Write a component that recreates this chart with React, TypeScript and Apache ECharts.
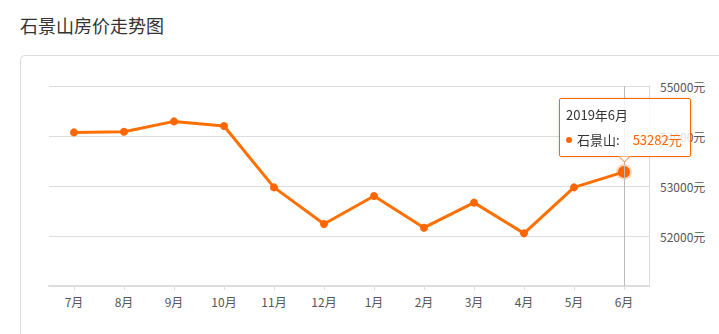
import React, { useEffect, useRef } from "react";
import * as echarts from "echarts";

const categories = ["7月", "8月", "9月", "10月", "11月", "12月", "1月", "2月", "3月", "4月", "5月", "6月"];
const periods = [
  "2018年7月", "2018年8月", "2018年9月", "2018年10月", "2018年11月", "2018年12月",
  "2019年1月", "2019年2月", "2019年3月", "2019年4月", "2019年5月", "2019年6月",
];
const prices = [54072, 54086, 54292, 54200, 52972, 52240, 52800, 52166, 52667, 52053, 52973, 53282];
const seriesName = "石景山";
const titleText = "石景山房价走势图";
const yMin = 51000;
const yMax = 55000;
const yInterval = 1000;
const unit = "元";
const highlightIndex = 11;

const ORANGE = "#ff6600";
const TIP_BG = "rgba(255,255,255,0.82)";
const FONT = '"Noto Sans CJK SC", "Microsoft YaHei", sans-serif';

export default function App() {
  const ref = useRef<HTMLDivElement>(null);
  useEffect(() => {
    if (!ref.current) return;
    const chart = echarts.init(ref.current, undefined, { renderer: "svg" });
    chart.setOption({
      animation: false,
      textStyle: { fontFamily: FONT },
      title: {
        text: titleText,
        left: 15,
        top: 11,
        textStyle: { fontSize: 18, fontWeight: "normal", color: "#333", fontFamily: FONT },
      },
      graphic: [
        {
          type: "rect",
          silent: true,
          z: -10,
          shape: { x: 20.5, y: 55.5, width: 760, height: 320, r: 4 },
          style: { fill: "#fff", stroke: "#dcdcdc", lineWidth: 1 },
        },
      ],
      grid: { left: 49, right: 70, top: 86, bottom: 48, containLabel: false },
      xAxis: {
        type: "category",
        data: categories,
        boundaryGap: true,
        axisLine: { show: true, lineStyle: { color: "#dcdcdc", width: 2 } },
        axisTick: { show: true, alignWithLabel: true, length: 4, lineStyle: { color: "#dcdcdc" } },
        axisLabel: { color: "#555", fontSize: 12, margin: 9, fontFamily: FONT },
        splitLine: { show: false },
      },
      yAxis: {
        type: "value",
        position: "right",
        min: yMin,
        max: yMax,
        interval: yInterval,
        axisLine: { show: true, lineStyle: { color: "#dcdcdc", width: 1 } },
        axisTick: { show: false },
        axisLabel: {
          color: "#555",
          fontSize: 12,
          margin: 11,
          showMinLabel: false,
          formatter: (v: number) => `${v}${unit}`,
          fontFamily: FONT,
        },
        splitLine: { show: true, lineStyle: { color: "#dcdcdc", width: 1 } },
      },
      tooltip: {
        trigger: "axis",
        alwaysShowContent: true,
        transitionDuration: 0,
        backgroundColor: TIP_BG,
        borderColor: ORANGE,
        borderWidth: 1,
        padding: [6, 8, 6, 6],
        textStyle: { fontSize: 13, color: "#333", fontFamily: FONT },
        extraCssText: "box-shadow: 0 0 3px rgba(0,0,0,0.15); border-radius: 2px; overflow: visible;",
        axisPointer: { type: "line", lineStyle: { color: "#bbb", width: 1, type: "solid" } },
        position: (point: number[], _params: any, _dom: any, _rect: any, size: any) => [
          point[0] - size.contentSize[0] / 2 + 1,
          point[1] - size.contentSize[1] - 15,
        ],
        formatter: (params: any) => {
          const p = Array.isArray(params) ? params[0] : params;
          return (
            `<div style="line-height:20px;margin-bottom:5px;">${periods[p.dataIndex]}</div>` +
            `<div style="line-height:20px;white-space:nowrap;">` +
            `<span style="display:inline-block;width:6px;height:6px;border-radius:50%;background:${ORANGE};margin-right:5px;vertical-align:middle;position:relative;top:-1px;"></span>` +
            `<span>${p.seriesName}:</span>` +
            `<span style="color:${ORANGE};margin-left:13px;">${p.value}${unit}</span></div>` +
            `<div style="position:absolute;left:50%;bottom:-5px;margin-left:-5px;width:8px;height:8px;background:#fff;border-right:1px solid ${ORANGE};border-bottom:1px solid ${ORANGE};transform:rotate(45deg);clip-path:polygon(100% 0,100% 100%,0 100%);"></div>`
          );
        },
      },
      series: [
        {
          name: seriesName,
          type: "line",
          data: prices,
          symbol: "circle",
          symbolSize: 8,
          lineStyle: { color: ORANGE, width: 3 },
          itemStyle: { color: ORANGE },
          emphasis: {
            scale: 1.5,
            itemStyle: { color: ORANGE, borderColor: "rgba(255,102,0,0.25)", borderWidth: 4 },
          },
        },
      ],
    });
    chart.dispatchAction({ type: "showTip", seriesIndex: 0, dataIndex: highlightIndex });
    return () => chart.dispose();
  }, []);
  return <div ref={ref} style={{ position: "absolute", left: 0, top: 0, width: 719, height: 334 }} />;
}
